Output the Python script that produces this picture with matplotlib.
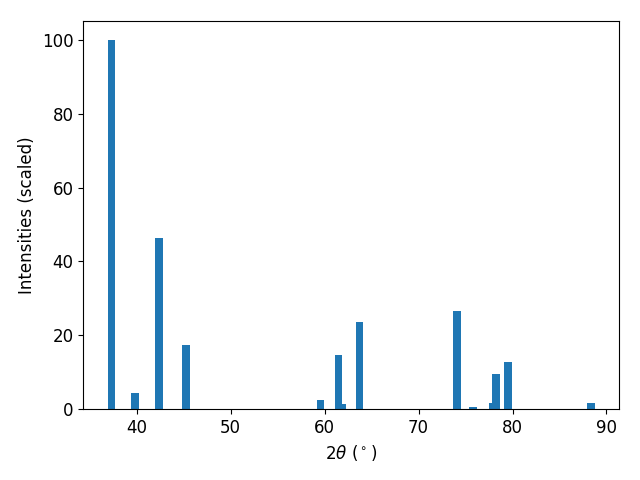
import matplotlib
matplotlib.use("Agg")
import matplotlib.pyplot as plt

two_theta = [37.30, 39.83, 42.34, 45.22, 59.55, 61.83, 61.47, 63.71, 74.11,
             75.79, 77.84, 78.24, 79.52, 88.37]
intensity = [100.0, 4.3, 46.4, 17.4, 2.4, 1.4, 14.6, 23.6, 26.6,
             0.5, 1.6, 9.5, 12.7, 1.6]

plt.rcParams['font.size'] = 12
fig, ax = plt.subplots(figsize=(6.4, 4.8), dpi=100)
ax.bar(two_theta, intensity, width=0.8, color='#1f77b4')
ax.set_xlabel(r'$2\theta$ ($^\circ$)')
ax.set_ylabel('Intensities (scaled)')
fig.subplots_adjust(left=83.3/640, right=619.3/640,
                    bottom=1 - 409.3/480, top=1 - 21.3/480)
fig.savefig('out.png', dpi=100)
